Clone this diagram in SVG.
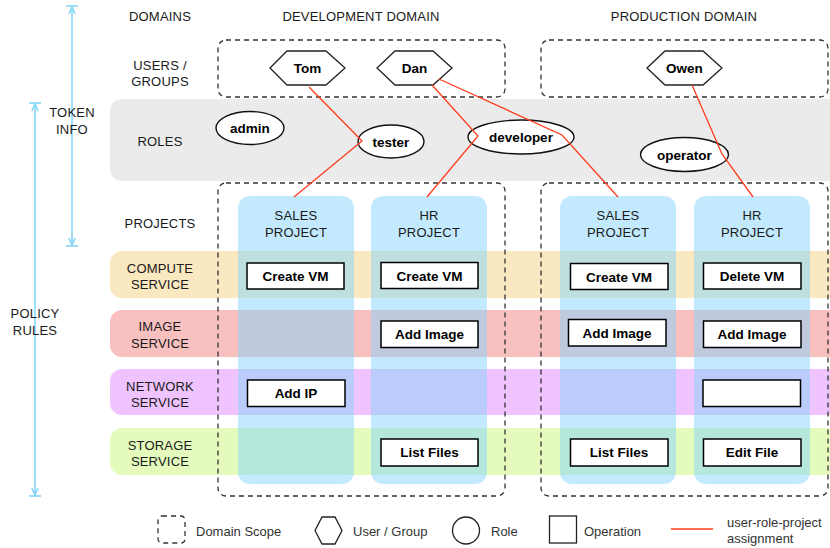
<svg xmlns="http://www.w3.org/2000/svg" width="830" height="548" viewBox="0 0 830 548">
<defs>
<style>
.lbl{font-family:"Liberation Sans",Arial,sans-serif;font-size:13px;fill:#1a1a1a;text-anchor:middle;letter-spacing:0.2px}
.bold{font-family:"Liberation Sans",Arial,sans-serif;font-size:13.5px;font-weight:bold;fill:#000;text-anchor:middle}
.leg{font-family:"Liberation Sans",Arial,sans-serif;font-size:13px;fill:#333}
.dash{fill:none;stroke:#333;stroke-width:1.3;stroke-dasharray:5,4}
.col{fill:#86d4fb;fill-opacity:0.5}
.op{fill:#fff;stroke:#000;stroke-width:1.5}
.hex{fill:#fff;stroke:#222;stroke-width:1.3}
.role{fill:#fff;stroke:#111;stroke-width:1.4}
.red{fill:none;stroke:#ff3d1f;stroke-width:1.3}
.blue{stroke:#80d4fa;stroke-width:1.5;fill:none}
</style>
<marker id="bar" markerUnits="userSpaceOnUse" orient="auto-start-reverse" refX="0" refY="0" markerWidth="20" markerHeight="20" overflow="visible">
<path d="M0,-6V6M-8,-3.2L-1,0L-8,3.2" fill="none" stroke="#80d4fa" stroke-width="1.5"/>
</marker>
</defs>

<g id="background">
<rect x="110" y="99" width="740" height="82" rx="12" fill="#ebebeb"/>
<rect x="110" y="251" width="740" height="47" rx="12" fill="#f9e8c0"/>
<rect x="110" y="310" width="740" height="47" rx="12" fill="#f9c0c0"/>
<rect x="110" y="369" width="740" height="46" rx="12" fill="#efc3fd"/>
<rect x="110" y="428" width="740" height="47" rx="12" fill="#e4fbbd"/>
</g>

<g id="scales">
<line class="blue" x1="72" y1="6" x2="72" y2="246" marker-start="url(#bar)" marker-end="url(#bar)"/>
<line class="blue" x1="35" y1="103" x2="35" y2="496" marker-start="url(#bar)" marker-end="url(#bar)"/>
<text class="lbl" x="72" y="117">TOKEN</text>
<text class="lbl" x="72" y="134">INFO</text>
<text class="lbl" x="35" y="317.5">POLICY</text>
<text class="lbl" x="35" y="334.5">RULES</text>
</g>

<g id="row-labels">
<text class="lbl" x="160" y="20.5">DOMAINS</text>
<text class="lbl" x="160" y="70">USERS /</text>
<text class="lbl" x="160" y="86">GROUPS</text>
<text class="lbl" x="160" y="145.5">ROLES</text>
<text class="lbl" x="160" y="227.5">PROJECTS</text>
<text class="lbl" x="160" y="272.5">COMPUTE</text>
<text class="lbl" x="160" y="288.5">SERVICE</text>
<text class="lbl" x="160" y="330.5">IMAGE</text>
<text class="lbl" x="160" y="347.5">SERVICE</text>
<text class="lbl" x="160" y="390.5">NETWORK</text>
<text class="lbl" x="160" y="406.5">SERVICE</text>
<text class="lbl" x="160" y="449.5">STORAGE</text>
<text class="lbl" x="160" y="465.5">SERVICE</text>
</g>

<g id="dev-domain">
<text class="lbl" x="361" y="20.5">DEVELOPMENT DOMAIN</text>
<rect class="dash" x="218" y="40" width="287" height="57" rx="8"/>
<rect class="dash" x="218" y="183" width="287" height="313" rx="8"/>
</g>
<g id="prod-domain">
<text class="lbl" x="684" y="20.5">PRODUCTION DOMAIN</text>
<rect class="dash" x="541" y="40" width="287" height="57" rx="8"/>
<rect class="dash" x="541" y="183" width="287" height="313" rx="8"/>
</g>

<g id="dev-sales-project">
<rect class="col" x="238" y="196" width="116" height="288" rx="12"/>
<text class="lbl" x="296" y="219.5">SALES</text>
<text class="lbl" x="296" y="236.5">PROJECT</text>
</g>
<g id="dev-hr-project">
<rect class="col" x="371" y="196" width="116" height="288" rx="12"/>
<text class="lbl" x="429" y="219.5">HR</text>
<text class="lbl" x="429" y="236.5">PROJECT</text>
</g>
<g id="prod-sales-project">
<rect class="col" x="560" y="196" width="116" height="288" rx="12"/>
<text class="lbl" x="618" y="219.5">SALES</text>
<text class="lbl" x="618" y="236.5">PROJECT</text>
</g>
<g id="prod-hr-project">
<rect class="col" x="694" y="196" width="116" height="288" rx="12"/>
<text class="lbl" x="752" y="219.5">HR</text>
<text class="lbl" x="752" y="236.5">PROJECT</text>
</g>

<g id="op-dev-sales-create-vm"><rect class="op" x="247" y="263" width="97" height="26"/><text class="bold" x="295.5" y="281">Create VM</text></g>
<g id="op-dev-hr-create-vm"><rect class="op" x="381" y="262.5" width="97" height="26"/><text class="bold" x="429.5" y="280.5">Create VM</text></g>
<g id="op-prod-sales-create-vm"><rect class="op" x="570.5" y="263.5" width="97.5" height="26"/><text class="bold" x="619" y="281.5">Create VM</text></g>
<g id="op-prod-hr-delete-vm"><rect class="op" x="703.5" y="263" width="97.5" height="26"/><text class="bold" x="752" y="281">Delete VM</text></g>

<g id="op-dev-hr-add-image"><rect class="op" x="381" y="321" width="97" height="26.5"/><text class="bold" x="429.5" y="339">Add Image</text></g>
<g id="op-prod-sales-add-image"><rect class="op" x="568.5" y="319.5" width="97.5" height="26.5"/><text class="bold" x="617" y="337.5">Add Image</text></g>
<g id="op-prod-hr-add-image"><rect class="op" x="703.5" y="321" width="97.5" height="26.5"/><text class="bold" x="752" y="339">Add Image</text></g>

<g id="op-dev-sales-add-ip"><rect class="op" x="247.5" y="380" width="97.5" height="26.5"/><text class="bold" x="296" y="398">Add IP</text></g>
<g id="op-prod-hr-empty"><rect class="op" x="703" y="380" width="97.5" height="26.5"/></g>

<g id="op-dev-hr-list-files"><rect class="op" x="381" y="439" width="97" height="27"/><text class="bold" x="429.5" y="457">List Files</text></g>
<g id="op-prod-sales-list-files"><rect class="op" x="570.5" y="439" width="97.5" height="27"/><text class="bold" x="619" y="457">List Files</text></g>
<g id="op-prod-hr-edit-file"><rect class="op" x="703.5" y="439" width="97.5" height="27"/><text class="bold" x="752" y="457">Edit File</text></g>

<g id="user-tom"><polygon class="hex" points="270,68 287,51 326,51 345,68 326,85 287,85"/><text class="bold" x="307.5" y="73">Tom</text></g>
<g id="user-dan"><polygon class="hex" points="377,68 395,51 433,51 452,68 433,85 395,85"/><text class="bold" x="414.5" y="73">Dan</text></g>
<g id="user-owen"><polygon class="hex" points="647,68 665,51 703,51 722,68 703,85 665,85"/><text class="bold" x="684.5" y="73">Owen</text></g>

<g id="role-admin"><ellipse class="role" cx="250" cy="128" rx="34" ry="16.5"/><text class="bold" x="250" y="133">admin</text></g>
<g id="role-tester"><ellipse class="role" cx="391" cy="141.5" rx="33" ry="16.5"/><text class="bold" x="391" y="146.5">tester</text></g>
<g id="role-developer"><ellipse class="role" cx="521" cy="137" rx="53" ry="17"/><text class="bold" x="521" y="142">developer</text></g>
<g id="role-operator"><ellipse class="role" cx="684.5" cy="154.5" rx="44" ry="17"/><text class="bold" x="684.5" y="159.5">operator</text></g>

<g id="connectors">
<polyline class="red" points="309,87 362,141 294,197"/>
<polyline class="red" points="432,85 478,136 427,197"/>
<polyline class="red" points="439,79 562,135 618,197"/>
<polyline class="red" points="692,85 722,154 753,197"/>
</g>

<g id="legend">
<rect class="dash" x="158" y="516" width="27" height="27" rx="4"/>
<text class="leg" x="196" y="536">Domain Scope</text>
<polygon class="hex" points="315,530.5 322,517 335,517 342,530.5 335,544 322,544"/>
<text class="leg" x="353" y="536">User / Group</text>
<circle class="hex" cx="466" cy="530.5" r="13.5"/>
<text class="leg" x="491" y="536">Role</text>
<rect class="hex" x="549.5" y="516" width="27" height="27"/>
<text class="leg" x="584" y="536">Operation</text>
<line class="red" x1="671" y1="529" x2="713" y2="529"/>
<text class="leg" x="727" y="527">user-role-project</text>
<text class="leg" x="727" y="543">assignment</text>
</g>
</svg>
